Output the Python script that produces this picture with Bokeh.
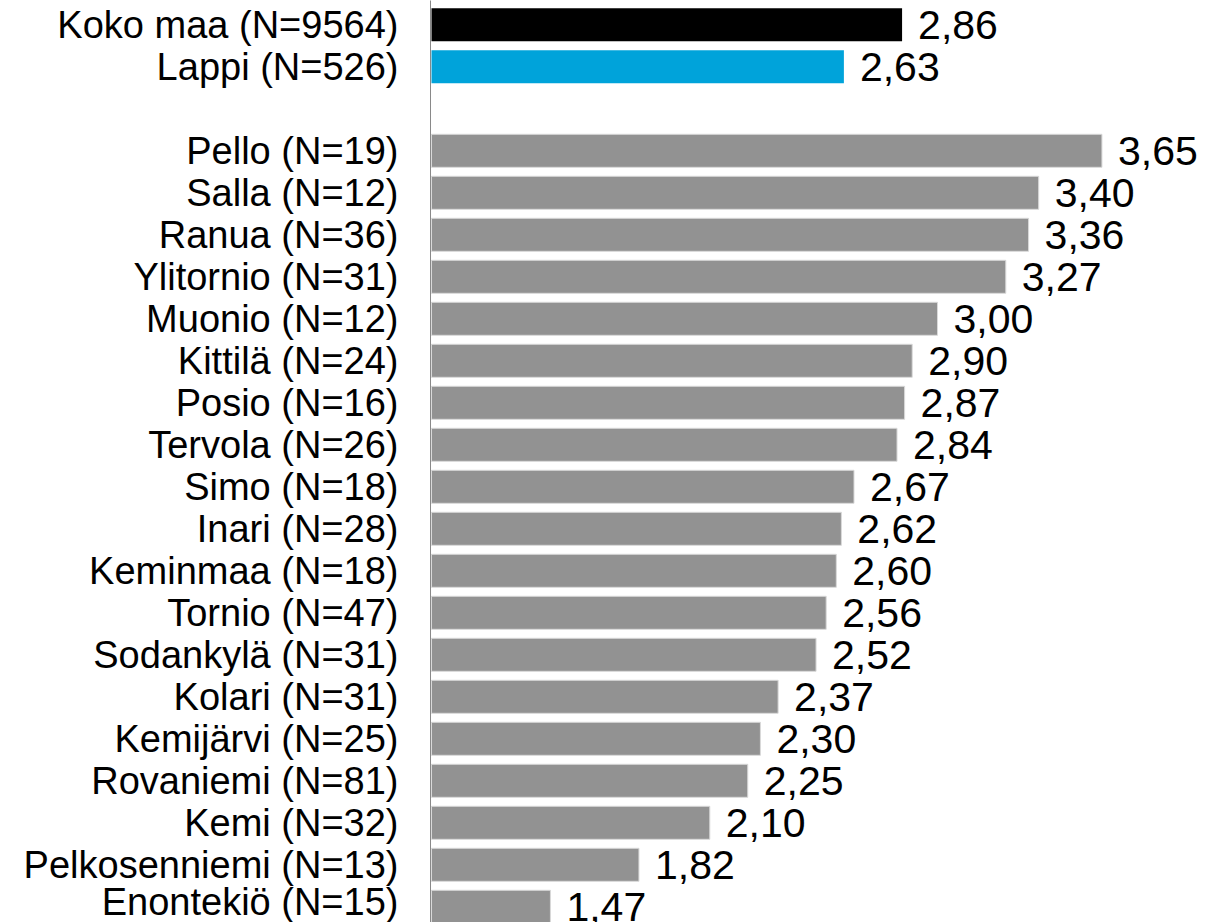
from bokeh.plotting import figure
from bokeh.models import ColumnDataSource, Range1d, FixedTicker
from bokeh.core.properties import value
from bokeh.embed import file_html
from bokeh.resources import INLINE

# Data
summary_names = ["Koko maa (N=9564)", "Lappi (N=526)"]
summary_values = [2.86, 2.63]
summary_colors = ["#000000", "#00A3DA"]

municipality_names = [
    "Pello (N=19)", "Salla (N=12)", "Ranua (N=36)", "Ylitornio (N=31)",
    "Muonio (N=12)", "Kittilä (N=24)", "Posio (N=16)", "Tervola (N=26)",
    "Simo (N=18)", "Inari (N=28)", "Keminmaa (N=18)", "Tornio (N=47)",
    "Sodankylä (N=31)", "Kolari (N=31)", "Kemijärvi (N=25)",
    "Rovaniemi (N=81)", "Kemi (N=32)", "Pelkosenniemi (N=13)",
    "Enontekiö (N=15)",
]
municipality_values = [3.65, 3.40, 3.36, 3.27, 3.00, 2.90, 2.87, 2.84, 2.67,
                       2.62, 2.60, 2.56, 2.52, 2.37, 2.30, 2.25, 2.10, 1.82,
                       1.47]
municipality_color = "#929292"

FONT = "Liberation Sans"
BASE = 1.0  # scale minimum

# rows: summary rows, one empty row, then municipalities
sum_pos = list(range(len(summary_names)))
mun_pos = [len(summary_names) + 1 + i for i in range(len(municipality_names))]

def fmt(v):
    return f"{v:.2f}".replace(".", ",")

src_sum = ColumnDataSource(dict(
    y=sum_pos, v=summary_values, c=summary_colors,
    lab=[fmt(v) for v in summary_values]))
src_mun = ColumnDataSource(dict(
    y=mun_pos, v=municipality_values,
    lab=[fmt(v) for v in municipality_values]))

fig_w, fig_h = 1205, 922
left_border = 430
px_per_unit = 253.0
frame_w = fig_w - left_border
x_start = BASE - 1.0 / px_per_unit
x_end = x_start + frame_w / px_per_unit

row_px = 42.0
first_center = 24.3
y_top = -first_center / row_px
y_bottom = y_top + fig_h / row_px

p = figure(width=fig_w, height=fig_h, output_backend="svg",
           toolbar_location=None, x_range=Range1d(x_start, x_end),
           y_range=Range1d(y_bottom, y_top),
           min_border_left=left_border, min_border_right=0, min_border_top=0,
           min_border_bottom=0)
p.outline_line_color = None
p.xgrid.visible = False
p.ygrid.visible = False
p.xaxis.visible = False
p.background_fill_color = "white"
p.border_fill_color = "white"

bar_h = 0.786
p.hbar(y="y", left=BASE, right="v", height=bar_h, fill_color="c",
       line_color=None, source=src_sum)
p.hbar(y="y", left=BASE, right="v", height=bar_h, fill_color=municipality_color,
       line_color="#D9D9D9", line_width=1, source=src_mun)

for src in (src_sum, src_mun):
    p.text(x="v", y="y", text="lab", x_offset=16, y_offset=0,
           text_align="left", text_baseline="middle",
           text_font=value(FONT), text_font_size="41px", text_color="#000000",
           source=src)

yax = p.yaxis[0]
all_pos = sum_pos + mun_pos
all_names = summary_names + municipality_names
yax.ticker = FixedTicker(ticks=all_pos)
yax.major_label_overrides = {pos: name for pos, name in zip(all_pos, all_names)}
yax.major_tick_line_color = None
yax.minor_tick_line_color = None
yax.major_tick_out = 0
yax.major_tick_in = 0
yax.major_label_standoff = 32
yax.major_label_text_font = FONT
yax.major_label_text_font_size = "38px"
yax.major_label_text_color = "#000000"
yax.axis_line_color = "#898989"
yax.axis_line_width = 1

open("out.html", "w").write(file_html(p, INLINE))
